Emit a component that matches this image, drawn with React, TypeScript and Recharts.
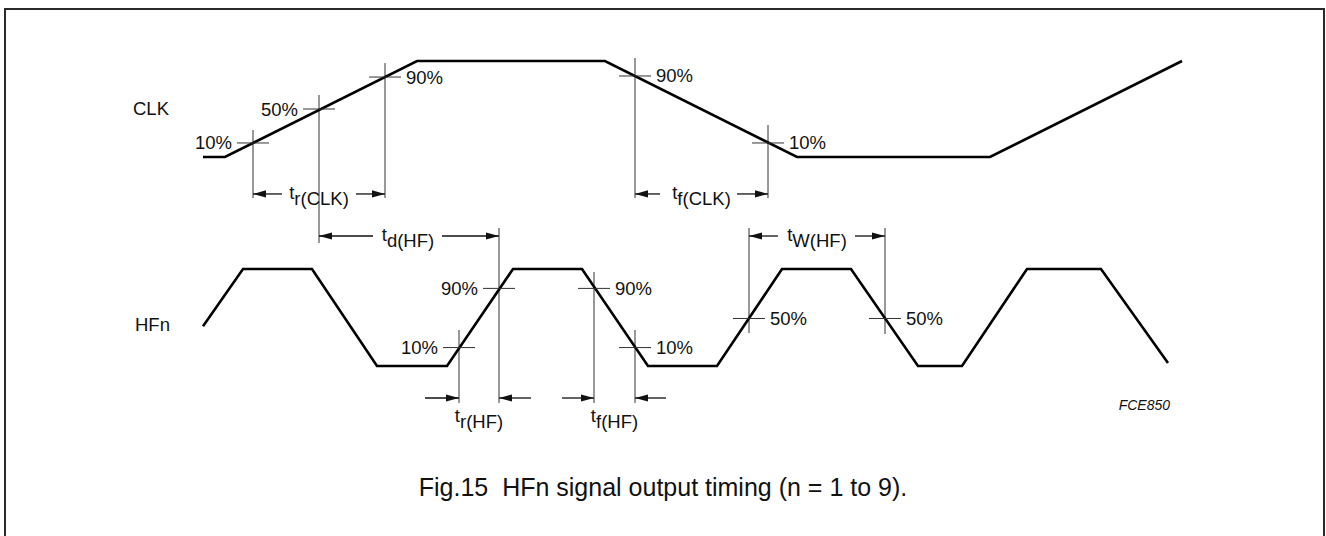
import React from 'react';
import { ComposedChart, Line, Scatter, XAxis, YAxis } from 'recharts';

// ---------- data (time units along x, signal level 0..1 along y) ----------
const CLK_WAVE = [
  { t: 203, level: 0 }, { t: 225, level: 0 }, { t: 417, level: 1 }, { t: 605, level: 1 },
  { t: 797, level: 0 }, { t: 990, level: 0 }, { t: 1182, level: 1 },
];
const HF_WAVE = [
  { t: 203, level: 0.41 }, { t: 243, level: 1 }, { t: 312, level: 1 }, { t: 377, level: 0 },
  { t: 447, level: 0 }, { t: 513, level: 1 }, { t: 582, level: 1 }, { t: 648, level: 0 },
  { t: 717, level: 0 }, { t: 782, level: 1 }, { t: 851, level: 1 }, { t: 918, level: 0 },
  { t: 962, level: 0 }, { t: 1027, level: 1 }, { t: 1101, level: 1 }, { t: 1168, level: 0.03 },
];
const CLK_MARKERS = [
  { t: 253, level: 0.146, label: '10%' },
  { t: 319, level: 0.5, label: '50%' },
  { t: 385, level: 0.833, label: '90%' },
  { t: 635, level: 0.844, label: '90%' },
  { t: 768, level: 0.146, label: '10%' },
];
const CLK_MARKER_SIDES = ['left', 'left', 'right', 'right', 'right'];
const HF_MARKERS = [
  { t: 459, level: 0.19, label: '10%' },
  { t: 499, level: 0.8, label: '90%' },
  { t: 594, level: 0.8, label: '90%' },
  { t: 635, level: 0.19, label: '10%' },
  { t: 749, level: 0.49, label: '50%' },
  { t: 885, level: 0.49, label: '50%' },
];
const HF_MARKER_SIDES = ['left', 'left', 'right', 'right', 'right', 'right'];

const CLK_GUIDES = [
  { t: 253, from: 0.281, to: -0.427 },
  { t: 319, from: 0.646, to: -0.896 },
  { t: 385, from: 0.979, to: -0.427 },
  { t: 635, from: 1.031, to: -0.427 },
  { t: 768, from: 0.333, to: -0.427 },
];
const HF_GUIDES = [
  { t: 459, from: 0.371, to: -0.381 },
  { t: 499, from: 1.423, to: -0.381 },
  { t: 594, from: 0.969, to: -0.381 },
  { t: 635, from: 0.371, to: -0.381 },
  { t: 749, from: 1.423, to: 0.34 },
  { t: 885, from: 1.423, to: 0.33 },
];

const CLK_ARROWS = [
  { tail: 282, head: 253, level: -0.385 },
  { tail: 356, head: 385, level: -0.385 },
  { tail: 660, head: 635, level: -0.385 },
  { tail: 737, head: 768, level: -0.385 },
  { tail: 373, head: 319, level: -0.823 },
  { tail: 442, head: 499, level: -0.823 },
];
const HF_ARROWS = [
  { tail: 778, head: 749, level: 1.34 },
  { tail: 855, head: 885, level: 1.34 },
  { tail: 425, head: 459, level: -0.33 },
  { tail: 531, head: 499, level: -0.33 },
  { tail: 562, head: 594, level: -0.33 },
  { tail: 666, head: 635, level: -0.33 },
];

const CLK_DIM_LABELS = [
  { t: 319, level: -0.385, sub: 'r(CLK)' },
  { t: 701.5, level: -0.385, sub: 'f(CLK)' },
  { t: 408, level: -0.823, sub: 'd(HF)' },
];
const HF_DIM_LABELS = [
  { t: 817, level: 1.34, sub: 'W(HF)' },
  { t: 479, level: -0.526, sub: 'r(HF)' },
  { t: 614.5, level: -0.526, sub: 'f(HF)' },
];

const CLK_NAMES = [{ t: 133, level: 0.51, text: 'CLK' }];
const HF_NAMES = [{ t: 135, level: 0.423, text: 'HFn' }];
const NOTES = [{ t: 1170, level: -0.402, text: 'FCE850' }];
const CAPTIONS = [{ t: 663, level: -1.247, text: 'Fig.15  HFn signal output timing (n = 1 to 9).' }];

// ---------- layout ----------
const W = 1326;
const H = 536;
const CLK_LOW_PX = 157;
const CLK_HIGH_PX = 61;
const HF_LOW_PX = 366;
const HF_HIGH_PX = 269;
const FONT = '"Liberation Sans", Arial, Helvetica, sans-serif';
const INK = '#111';

function levelDomain(lowPx: number, highPx: number): [number, number] {
  const unit = lowPx - highPx;
  return [-(H - lowPx) / unit, lowPx / unit];
}

const clkMarkerPts = CLK_MARKERS.map((m, i) => ({ ...m, side: CLK_MARKER_SIDES[i] }));
const hfMarkerPts = HF_MARKERS.map((m, i) => ({ ...m, side: HF_MARKER_SIDES[i] }));
const toHeads = (arr: { tail: number; head: number; level: number }[]) =>
  arr.map((a) => ({ t: a.head, level: a.level, dir: a.head > a.tail ? 1 : -1 }));

const MarkerShape = (props: any) => {
  const { cx, cy, payload } = props;
  const left = payload.side === 'left';
  return (
    <g>
      <line x1={cx - 16} x2={cx + 16} y1={cy} y2={cy} stroke="#333" strokeWidth={1} />
      <text
        x={left ? cx - 21 : cx + 21}
        y={cy + 6.5}
        textAnchor={left ? 'end' : 'start'}
        fontFamily={FONT}
        fontSize={18.5}
        fill={INK}
      >
        {payload.label}
      </text>
    </g>
  );
};

const ArrowHeadShape = (props: any) => {
  const { cx, cy, payload } = props;
  const d = payload.dir;
  const len = 13;
  const hw = 3.6;
  return (
    <path
      d={`M${cx},${cy} L${cx - d * len},${cy - hw} L${cx - d * len},${cy + hw} Z`}
      fill={INK}
      stroke="none"
    />
  );
};

const DimLabelShape = (props: any) => {
  const { cx, cy, payload } = props;
  return (
    <text x={cx} y={cy + 5} textAnchor="middle" fontFamily={FONT} fontSize={18.5} fill={INK}>
      <tspan>t</tspan>
      <tspan dy={6}>{payload.sub}</tspan>
    </text>
  );
};

const NameShape = (props: any) => {
  const { cx, cy, payload } = props;
  return (
    <text x={cx} y={cy + 6.5} textAnchor="start" fontFamily={FONT} fontSize={18.5} fill={INK}>
      {payload.text}
    </text>
  );
};

const NoteShape = (props: any) => {
  const { cx, cy, payload } = props;
  return (
    <text x={cx} y={cy + 5} textAnchor="end" fontFamily={FONT} fontSize={14} fontStyle="italic" fill={INK}>
      {payload.text}
    </text>
  );
};

const CaptionShape = (props: any) => {
  const { cx, cy, payload } = props;
  return (
    <text x={cx} y={cy + 9} textAnchor="middle" fontFamily={FONT} fontSize={25} fill={INK} style={{ whiteSpace: 'pre' }}>
      {payload.text}
    </text>
  );
};

export default function App() {
  const guideLines = (guides: typeof CLK_GUIDES, axis: string) =>
    guides.map((g, i) => (
      <Line
        key={`${axis}-guide-${i}`}
        yAxisId={axis}
        data={[{ t: g.t, level: g.from }, { t: g.t, level: g.to }]}
        dataKey="level"
        stroke="#333"
        strokeWidth={1}
        dot={false}
        activeDot={false}
        isAnimationActive={false}
        type="linear"
      />
    ));
  const shafts = (arrows: typeof CLK_ARROWS, axis: string) =>
    arrows.map((a, i) => (
      <Line
        key={`${axis}-shaft-${i}`}
        yAxisId={axis}
        data={[{ t: a.tail, level: a.level }, { t: a.head, level: a.level }]}
        dataKey="level"
        stroke={INK}
        strokeWidth={1.3}
        dot={false}
        activeDot={false}
        isAnimationActive={false}
        type="linear"
      />
    ));

  return (
    <div style={{ position: 'absolute', left: 0, top: 0, width: W, height: H, overflow: 'hidden', background: '#fff' }}>
      <div
        style={{
          position: 'absolute',
          left: 4,
          top: 8,
          width: 1321,
          height: 600,
          boxSizing: 'border-box',
          border: '2px solid #2a2a2a',
        }}
      />
      <div style={{ position: 'absolute', left: 0, top: 0 }}>
        <ComposedChart width={W} height={H} margin={{ top: 0, right: 0, bottom: 0, left: 0 }}>
          <XAxis type="number" dataKey="t" domain={[0, W]} allowDataOverflow hide />
          <YAxis yAxisId="clk" type="number" dataKey="level" domain={levelDomain(CLK_LOW_PX, CLK_HIGH_PX)} allowDataOverflow hide />
          <YAxis yAxisId="hf" type="number" dataKey="level" domain={levelDomain(HF_LOW_PX, HF_HIGH_PX)} allowDataOverflow hide />

          {guideLines(CLK_GUIDES, 'clk')}
          {guideLines(HF_GUIDES, 'hf')}
          {shafts(CLK_ARROWS, 'clk')}
          {shafts(HF_ARROWS, 'hf')}

          <Line yAxisId="clk" data={CLK_WAVE} dataKey="level" type="linear" stroke="#000" strokeWidth={2.6}
            dot={false} activeDot={false} isAnimationActive={false} />
          <Line yAxisId="hf" data={HF_WAVE} dataKey="level" type="linear" stroke="#000" strokeWidth={2.6}
            dot={false} activeDot={false} isAnimationActive={false} />

          <Scatter yAxisId="clk" data={clkMarkerPts} dataKey="level" shape={MarkerShape} isAnimationActive={false} />
          <Scatter yAxisId="hf" data={hfMarkerPts} dataKey="level" shape={MarkerShape} isAnimationActive={false} />
          <Scatter yAxisId="clk" data={toHeads(CLK_ARROWS)} dataKey="level" shape={ArrowHeadShape} isAnimationActive={false} />
          <Scatter yAxisId="hf" data={toHeads(HF_ARROWS)} dataKey="level" shape={ArrowHeadShape} isAnimationActive={false} />
          <Scatter yAxisId="clk" data={CLK_DIM_LABELS} dataKey="level" shape={DimLabelShape} isAnimationActive={false} />
          <Scatter yAxisId="hf" data={HF_DIM_LABELS} dataKey="level" shape={DimLabelShape} isAnimationActive={false} />
          <Scatter yAxisId="clk" data={CLK_NAMES} dataKey="level" shape={NameShape} isAnimationActive={false} />
          <Scatter yAxisId="hf" data={HF_NAMES} dataKey="level" shape={NameShape} isAnimationActive={false} />
          <Scatter yAxisId="hf" data={NOTES} dataKey="level" shape={NoteShape} isAnimationActive={false} />
          <Scatter yAxisId="hf" data={CAPTIONS} dataKey="level" shape={CaptionShape} isAnimationActive={false} />
        </ComposedChart>
      </div>
    </div>
  );
}
